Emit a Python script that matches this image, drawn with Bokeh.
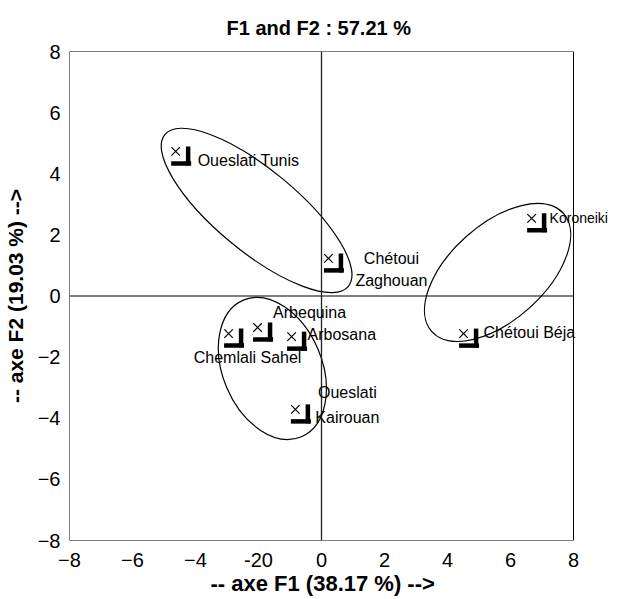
from bokeh.plotting import figure
from bokeh.models import Label, Span, FixedTicker, Range1d, BoxAnnotation, Title
from bokeh.embed import file_html
from bokeh.resources import INLINE
import math

# ---- data ----
names = ["Oueslati Tunis", "Chétoui Zaghouan", "Koroneiki", "Chétoui Béja",
         "Chemlali Sahel", "Arbequina", "Arbosana", "Oueslati Kairouan"]
f1 = [-4.63, 0.22, 6.67, 4.51, -2.95, -2.03, -0.95, -0.83]
f2 = [4.73, 1.23, 2.54, -1.23, -1.23, -1.03, -1.33, -3.71]

# group ellipses (centre, full width/height along own axes, angle in degrees)
ell_x = [-2.06, -1.56, 5.59]
ell_y = [2.80, -2.37, 0.77]
ell_w = [7.56, 4.71, 5.62]
ell_h = [2.68, 3.24, 3.12]
ell_angle = [-39.6, -67.0, 42.0]

x_ticks = [-8, -6, -4, -2, 0, 2, 4, 6, 8]
y_ticks = [-8, -6, -4, -2, 0, 2, 4, 6, 8]
AX_MIN, AX_MAX = -8, 8

title_text = "F1 and F2 : 57.21 %"
x_title = "-- axe F1 (38.17 %) -->"
y_title = "-- axe F2 (19.03 %) -->"

# label lines: (point index, text, dx px, dy px (down), align, font px)
label_lines = [
    (0, "Oueslati Tunis", 22, 9, "left", 16),
    (1, "Chétoui", 63, 0, "center", 16),
    (1, "Zaghouan", 63, 22, "center", 16),
    (2, "Koroneiki", 18, 0, "left", 14),
    (3, "Chétoui Béja", 20, -1, "left", 16),
    (4, "Chemlali Sahel", 19, 24, "center", 16),
    (5, "Arbequina", 52, -15, "center", 16),
    (6, "Arbosana", 16, -2, "left", 16),
    (7, "Oueslati", 52, -17, "center", 16),
    (7, "Kairouan", 52, 8, "center", 16),
]

# layout: box spans -8..8; frame extends to the right so labels can overflow the box
KX = 31.5
LEFT = 64
CANVAS_W = 604
FH = 489
FW = CANVAS_W - LEFT
X0, X1 = AX_MIN, AX_MIN + FW / KX
Y0, Y1 = AX_MIN, AX_MAX
kx = FW / (X1 - X0)
ky = FH / (Y1 - Y0)

FONT = "Liberation Sans"

p = figure(frame_width=FW, frame_height=FH,
           x_range=Range1d(X0, X1), y_range=Range1d(Y0, Y1),
           output_backend="svg", toolbar_location=None,
           min_border_left=LEFT, min_border_right=0,
           min_border_top=51, min_border_bottom=56)

p.title.text = title_text
p.title.align = "left"
p.title.offset = 157
p.title.text_font = FONT
p.title.text_font_size = "20px"
p.title.text_font_style = "bold"
p.title.text_color = "black"
p.title.standoff = 26

p.xgrid.visible = False
p.ygrid.visible = False
p.outline_line_color = None
p.background_fill_color = "white"
p.border_fill_color = "white"

for ax, ticks in ((p.xaxis[0], x_ticks), (p.yaxis[0], y_ticks)):
    ax.ticker = FixedTicker(ticks=ticks)
    ax.axis_line_color = None
    ax.major_tick_line_color = None
    ax.minor_tick_line_color = None
    ax.major_tick_out = 0
    ax.major_tick_in = 0
    ax.minor_tick_out = 0
    ax.major_label_text_font = FONT
    ax.major_label_text_font_size = "20px"
    ax.major_label_text_color = "black"

p.yaxis[0].axis_label = y_title
p.yaxis[0].axis_label_text_font = FONT
p.yaxis[0].axis_label_text_font_size = "21px"
p.yaxis[0].axis_label_text_font_style = "bold"
p.yaxis[0].axis_label_text_color = "black"
p.yaxis[0].major_label_standoff = 9
p.yaxis[0].axis_label_standoff = 8
p.yaxis[0].major_label_orientation = "horizontal"

p.xaxis[0].major_label_overrides = {-2: "-20"}
p.xaxis[0].major_label_standoff = 12

p.add_layout(Title(text=x_title, align="left", offset=141,
                   text_font=FONT, text_font_size="22px", text_font_style="bold",
                   text_color="black", standoff=-2), "below")

# frame box -8..8
p.add_layout(BoxAnnotation(left=AX_MIN, right=AX_MAX, bottom=AX_MIN, top=AX_MAX,
                           fill_alpha=0, line_color="black", line_width=1,
                           line_alpha=1, level="underlay"))

# centre axes
p.add_layout(Span(location=0, dimension="height", line_color="#222222", line_width=1.3))
p.segment(x0=[AX_MIN], y0=[0], x1=[AX_MAX], y1=[0], line_color="black", line_width=1)

# ellipses
p.ellipse(x=ell_x, y=ell_y, width=ell_w, height=ell_h,
          angle=[math.radians(a) for a in ell_angle],
          fill_color=None, line_color="black", line_width=1.2)

# point markers
p.scatter(f1, f2, marker="x", size=12, line_color="black", line_width=1.2)

# L-shaped brackets beside each point
p.rect(x=[x + 12.5 / kx for x in f1], y=[y - 4.5 / ky for y in f2],
       width=4.5, height=19, width_units="screen", height_units="screen",
       fill_color="black", line_color=None)
p.rect(x=[x + 5.5 / kx for x in f1], y=[y - 12 / ky for y in f2],
       width=20, height=4.5, width_units="screen", height_units="screen",
       fill_color="black", line_color=None)

for i, t, dx, dy, al, fs in label_lines:
    p.add_layout(Label(x=f1[i], y=f2[i], text=t, x_offset=dx, y_offset=-dy,
                       text_align=al, text_baseline="middle",
                       text_font=FONT, text_font_size=f"{fs}px",
                       text_color="black", level="overlay"))

open("out.html", "w").write(file_html(p, INLINE))
